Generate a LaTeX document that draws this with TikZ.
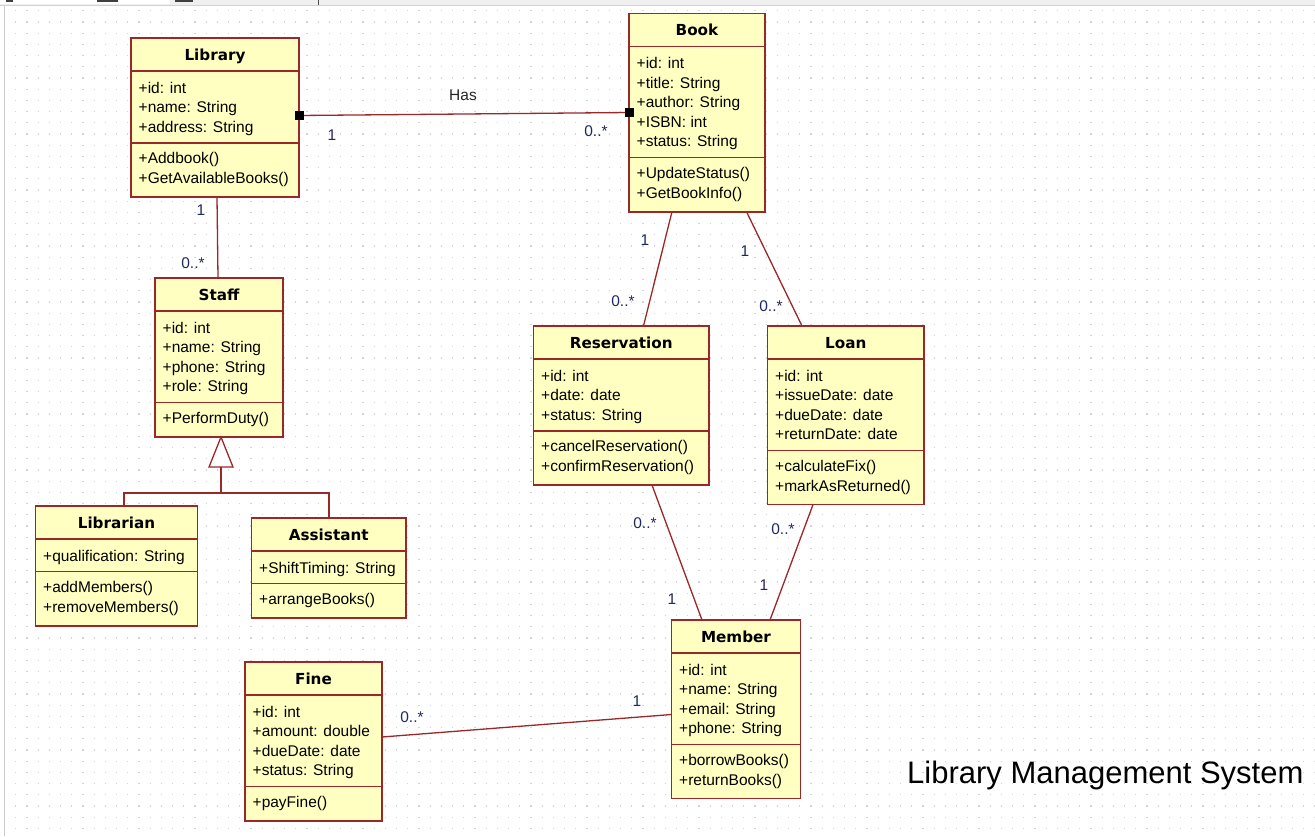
\documentclass[tikz,border=0pt]{standalone}
\usepackage{fontspec}
\setmainfont{Liberation Sans}
\newfontfamily\ttlfont{DejaVu Sans}
\usetikzlibrary{calc}
\definecolor{umlred}{RGB}{155,40,40}
\definecolor{umlfill}{RGB}{255,255,194}
\definecolor{multc}{RGB}{32,40,96}
\definecolor{gridc}{RGB}{212,212,212}
\tikzset{
  classbox/.style={rectangle, draw=umlred, fill=umlfill, line width=1.6pt, inner sep=0pt, outer sep=0pt},
  boxline/.style={draw=umlred, line width=1.6pt},
  ctitle/.style={font=\ttlfont\bfseries\fontsize{15.2}{18}\selectfont, inner sep=0pt, text=black},
  ctext/.style={font=\fontsize{15.5}{19}\selectfont, inner sep=0pt, text=black},
  assoc/.style={draw=umlred, line width=1.3pt},
  mult/.style={font=\fontsize{15.5}{19}\selectfont, text=multc, inner sep=0pt},
  sqend/.style={rectangle, fill=black, minimum size=9pt, inner sep=0pt, outer sep=0pt},
}
\newcommand\umlclass[9]{%
  \pgfmathsetmacro\clsya{#3+33}%
  \pgfmathsetmacro\clsyb{\clsya+19.6*#5+13}%
  \pgfmathsetmacro\clsyc{\clsyb+19.6*#6+15}%
  \pgfmathsetmacro\clsww{#4-#2}%
  \pgfmathsetmacro\clshh{\clsyc-#3}%
  \node[classbox, minimum width=\clsww pt, minimum height=\clshh pt, anchor=north west] (#1) at (#2,#3) {};
  \draw[boxline] (#2,\clsya) -- (#4,\clsya);
  \draw[boxline] (#2,\clsyb) -- (#4,\clsyb);
  \node[ctitle, anchor=base] (#1-title) at ({(#2+#4)/2},{#3+22}) {#7};
  \foreach \t [count=\i from 0] in {#8} {\node[ctext, anchor=base west] (#1-a\i) at ({#2+7.5},{\clsya+22+19.6*\i}) {\t};}
  \foreach \t [count=\i from 0] in {#9} {\node[ctext, anchor=base west] (#1-m\i) at ({#2+7.5},{\clsyb+21+19.6*\i}) {\t};}
}
\begin{document}
\begin{tikzpicture}[x=1pt, y=-1pt]
\useasboundingbox (0,0) rectangle (1315,836);
\fill[white] (0,0) rectangle (1315,836);
% window chrome
\fill[gray!12] (0,0) rectangle (1315,4.5);
\fill[white] (0,0) rectangle (170,4);
\fill[black!75] (6,0) rectangle (13,1.5);
\fill[black!75] (97,0) rectangle (118,1.5);
\fill[black!75] (175,0) rectangle (193,1.5);
\draw[black!70, line width=0.8pt] (318,0) -- (318,4.5);
\draw[gray!35, line width=0.8pt] (0,5) -- (1315,5);
\draw[gray!40, line width=1pt] (4,5) -- (4,836);
% grid dots
\foreach \r in {0,...,73} {
  \draw[gridc, line width=1.2pt, dash pattern=on 1.2pt off 10pt] (15.1,{10.7+11.2*\r}) -- (1315,{10.7+11.2*\r});
}
% classes
\umlclass{library}{131}{38}{299}{3}{2}{Library}{+id: int,+name: String,+address: String}{+Addbook(),+GetAvailableBooks()}
\umlclass{book}{629}{13.5}{765}{5}{2}{Book}{+id: int,+title: String,+author: String,+ISBN: int,+status: String}{+UpdateStatus(),+GetBookInfo()}
\umlclass{staff}{155}{278}{283}{4}{1}{Staff}{+id: int,+name: String,+phone: String,+role: String}{+PerformDuty()}
\umlclass{reservation}{533.5}{326}{709}{3}{2}{Reservation}{+id: int,+date: date,+status: String}{+cancelReservation(),+confirmReservation()}
\umlclass{loan}{767.5}{326}{924}{4}{2}{Loan}{+id: int,+issueDate: date,+dueDate: date,+returnDate: date}{+calculateFix(),+markAsReturned()}
\umlclass{librarian}{35.5}{506}{197.5}{1}{2}{Librarian}{+qualification: String}{+addMembers(),+removeMembers()}
\umlclass{assistant}{251.5}{518}{406}{1}{1}{Assistant}{+ShiftTiming: String}{+arrangeBooks()}
\umlclass{member}{671.5}{620}{800.5}{4}{2}{Member}{+id: int,+name: String,+email: String,+phone: String}{+borrowBooks(),+returnBooks()}
\umlclass{fine}{245}{662}{382}{4}{1}{Fine}{+id: int,+amount: double,+dueDate: date,+status: String}{+payFine()}
% associations
\draw[assoc] (library.east |- 0,115.5) -- (book.west |- 0,112.5);
\node[sqend] (sqlib) at (library.east |- 0,115.5) {};
\node[sqend] (sqbook) at (book.west |- 0,112.5) {};
\node[mult, text=black!85] (has) at (463,95) {Has};
\node[mult] (m1) at (332,135) {1};
\node[mult] (m2) at (596,131) {0..*};

\draw[assoc] (library.south -| 217,0) -- (staff.north -| 218,0);
\node[mult] (m3) at (201,210) {1};
\node[mult] (m4) at (193,263) {0..*};

\draw[assoc] (book.south -| 672,0) -- (reservation.north -| 643.5,0);
\node[mult] (m5) at (645,240) {1};
\node[mult] (m6) at (623,301) {0..*};

\draw[assoc] (book.south -| 746.5,0) -- (loan.north -| 802,0);
\node[mult] (m7) at (745,251) {1};
\node[mult] (m8) at (771,306) {0..*};

\draw[assoc] (reservation.south -| 652,0) -- (member.north -| 702,0);
\node[mult] (m9) at (645,523) {0..*};
\node[mult] (m10) at (672,599) {1};

\draw[assoc] (loan.south -| 813,0) -- (member.north -| 770,0);
\node[mult] (m11) at (783,529) {0..*};
\node[mult] (m12) at (764,585) {1};

\draw[assoc] (fine.east |- 0,737) -- (member.west |- 0,714.5);
\node[mult] (m13) at (412,717) {0..*};
\node[mult] (m14) at (637,701) {1};

% generalization
\draw[assoc, fill=white] (staff.south -| 221,0) -- ++(-12,30) -- ++(24,0) -- cycle;
\coordinate (gbase) at ($(staff.south -| 221,0)+(0,30)$);
\coordinate (gjoin) at (221,493);
\draw[assoc] (gbase) -- (gjoin);
\draw[assoc] (librarian.north -| 124,0) -- (124,493) -- (329,493) -- (assistant.north -| 329,0);

% title
\node[anchor=base west, font=\fontsize{31}{36}\selectfont, text=black, inner sep=0pt] (systitle) at (907,783) {Library Management System};
\end{tikzpicture}
\end{document}
